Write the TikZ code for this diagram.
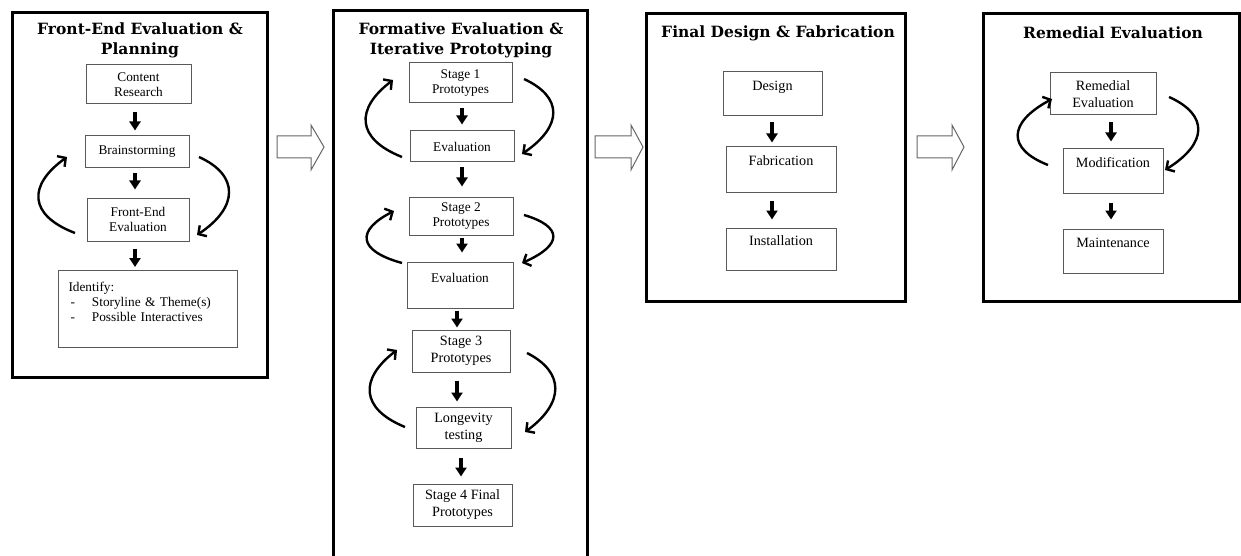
\documentclass[tikz,border=0pt]{standalone}
\usepackage{fontspec}
\setmainfont{Liberation Serif}
\newfontfamily\titlefont{DejaVu Serif}
\usetikzlibrary{arrows.meta,calc}
\newcommand\harrow[3]{\draw[hollow] (#1,136) -- (#2,136) -- (#2,125) -- (#3,147) -- (#2,170) -- (#2,158) -- (#1,158) -- cycle;}
\begin{document}
\begin{tikzpicture}[x=1pt,y=-1pt,
  panel/.style={draw=black, line width=3pt},
  box/.style={draw=black!65, line width=1pt, rectangle, align=center, inner sep=2pt, font=\fontsize{13.3}{15}\selectfont},
  bigbox/.style={box, font=\fontsize{14.2}{17}\selectfont},
  ttl/.style={font=\titlefont\bfseries\fontsize{15.5}{20}\selectfont, align=center},
  dar/.style={-{Triangle[length=9pt,width=11pt]}, line width=3.2pt},
  loopar/.style={-{Straight Barb[length=6pt,width=13pt]}, line width=2.4pt},
  hollow/.style={draw=black!60, fill=white, line width=1pt, line join=miter}
]
\useasboundingbox[fill=white] (0,0) rectangle (1241,556);

% panels
\draw[panel] (12,12.5) rectangle (267,377.5);
\draw[panel] (333,556) -- (333,11) -- (587,11) -- (587,556);
\draw[panel] (646,14) rectangle (905,301);
\draw[panel] (983,14) rectangle (1239,301);

% titles
\node[ttl] (t1) at (140,40) {Front-End Evaluation \&\\Planning};
\node[ttl] (t2) at (461,40) {Formative Evaluation \&\\Iterative Prototyping};
\node[ttl] (t3) at (778,33) {Final Design \& Fabrication};
\node[ttl] (t4) at (1113,33) {Remedial Evaluation};

% hollow arrows between panels
\harrow{277}{311}{324}
\harrow{595}{631}{643}
\harrow{917}{952}{964}

% panel 1
\node[box, minimum width=105pt, minimum height=39pt] (cr) at (138.5,84.5) {Content\\Research};
\node[box, minimum width=104pt, minimum height=32pt] (bs) at (137,152) {Brainstorming};
\node[box, minimum width=102pt, minimum height=43pt] (fe) at (138,219.5) {Front-End\\Evaluation};
\node[box, anchor=north west, minimum width=179pt, minimum height=77pt, text width=159pt, inner xsep=10pt, align=left] (id) at (58,270)
  {Identify:\\\hspace*{2pt}-\hspace{17pt}Storyline \& Theme(s)\\\hspace*{2pt}-\hspace{17pt}Possible Interactives\\\mbox{}};
\coordinate (c1) at (135,0);
\draw[dar, shorten <=8pt, shorten >=5pt] (cr.south -| c1) -- (bs.north -| c1);
\draw[dar, shorten <=5pt, shorten >=8pt] (bs.south -| c1) -- (fe.north -| c1);
\draw[dar, shorten <=7pt, shorten >=3pt] (fe.south -| c1) -- (id.north -| c1);
\coordinate (p1ls) at (75,233); \coordinate (p1le) at (67,157);
\coordinate (p1rs) at (199,157); \coordinate (p1re) at (197,235);
\draw[loopar] (p1ls) .. controls (28,215) and (28,185) .. (p1le);
\draw[loopar] (p1rs) .. controls (239,175) and (239,207) .. (p1re);

% panel 2
\node[box, minimum width=103pt, minimum height=40pt] (s1) at (460.5,83) {Stage 1\\Prototypes};
\node[box, minimum width=104pt, minimum height=31pt] (e1) at (462,146.5) {Evaluation};
\node[box, minimum width=104pt, minimum height=38pt] (s2) at (461,216) {Stage 2\\Prototypes};
\node[box, minimum width=106pt, minimum height=46pt] (e2) at (460,285) {Evaluation\\\mbox{}};
\node[bigbox, minimum width=98pt, minimum height=42pt] (s3) at (461,351) {Stage 3\\Prototypes};
\node[bigbox, minimum width=95pt, minimum height=41pt] (lt) at (463.5,427.5) {Longevity\\testing};
\node[bigbox, minimum width=99pt, minimum height=42pt] (s4) at (462.5,505) {Stage 4 Final\\Prototypes};
\coordinate (c2) at (462,0); \coordinate (c2b) at (457,0); \coordinate (c2c) at (461,0);
\draw[dar, shorten <=5pt, shorten >=6pt] (s1.south -| c2) -- (e1.north -| c2);
\draw[dar, shorten <=5pt, shorten >=10pt] (e1.south -| c2) -- (s2.north -| c2);
\draw[dar, shorten <=2pt, shorten >=9pt] (s2.south -| c2) -- (e2.north -| c2);
\draw[dar, shorten <=2pt, shorten >=2pt] (e2.south -| c2b) -- (s3.north -| c2b);
\draw[dar, shorten <=8pt, shorten >=5pt] (s3.south -| c2b) -- (lt.north -| c2b);
\draw[dar, shorten <=9pt, shorten >=7pt] (lt.south -| c2c) -- (s4.north -| c2c);
\coordinate (q1ls) at (402,157); \coordinate (q1le) at (393,80);
\coordinate (q1rs) at (524,79);  \coordinate (q1re) at (522,154);
\coordinate (q2ls) at (402,263); \coordinate (q2le) at (394,211);
\coordinate (q2rs) at (524,215); \coordinate (q2re) at (522,263);
\coordinate (q3ls) at (405,427); \coordinate (q3le) at (397,350);
\coordinate (q3rs) at (527,353); \coordinate (q3re) at (525,432);
\draw[loopar] (q1ls) .. controls (355.5,138.5) and (355.5,108.5) .. (q1le);
\draw[loopar] (q1rs) .. controls (563,97) and (563,126) .. (q1re);
\draw[loopar] (q2ls) .. controls (356.7,250.5) and (356.7,230) .. (q2le);
\draw[loopar] (q2rs) .. controls (563,226.5) and (563,245) .. (q2re);
\draw[loopar] (q3ls) .. controls (359.7,408.5) and (359.7,378.5) .. (q3le);
\draw[loopar] (q3rs) .. controls (564.7,372) and (564.7,403) .. (q3re);

% panel 3
\node[bigbox, minimum width=99pt, minimum height=44pt] (des) at (772.5,94) {Design\\\mbox{}};
\node[bigbox, minimum width=110pt, minimum height=45pt] (fab) at (781,169.5) {Fabrication\\\mbox{}};
\node[bigbox, minimum width=110pt, minimum height=42pt] (ins) at (781,249) {Installation\\\mbox{}};
\coordinate (c3) at (772,0);
\draw[dar, shorten <=6pt, shorten >=4pt] (des.south -| c3) -- (fab.north -| c3);
\draw[dar, shorten <=8pt, shorten >=8pt] (fab.south -| c3) -- (ins.north -| c3);

% panel 4
\node[bigbox, minimum width=106pt, minimum height=42pt] (re) at (1103,94) {Remedial\\Evaluation};
\node[bigbox, minimum width=100pt, minimum height=44pt] (mod) at (1113,171) {Modification\\\mbox{}};
\node[bigbox, minimum width=100pt, minimum height=44pt] (mnt) at (1113,251) {Maintenance\\\mbox{}};
\coordinate (c4) at (1111,0);
\draw[dar, shorten <=7pt, shorten >=7pt] (re.south -| c4) -- (mod.north -| c4);
\draw[dar, shorten <=9pt, shorten >=9pt] (mod.south -| c4) -- (mnt.north -| c4);
\coordinate (r1ls) at (1048,165); \coordinate (r1le) at (1052,99);
\coordinate (r1rs) at (1169,97);  \coordinate (r1re) at (1165,170);
\draw[loopar] (r1ls) .. controls (1007.3,149) and (1007.3,123) .. (r1le);
\draw[loopar] (r1rs) .. controls (1208.3,114.5) and (1208.3,143) .. (r1re);
\end{tikzpicture}
\end{document}
